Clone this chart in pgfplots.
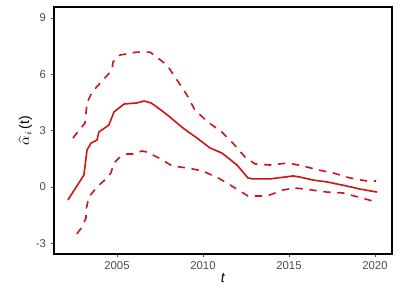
\documentclass[border=0pt]{standalone}
\usepackage{pgfplots}
\pgfplotsset{compat=1.18}
\usepackage{fontspec}
\setmainfont{Liberation Sans}
\definecolor{cred}{RGB}{208,20,20}
\definecolor{tgray}{RGB}{77,77,77}
\begin{document}
\begin{tikzpicture}
\useasboundingbox (-40.5pt,-34.5pt) rectangle (259.5pt,190.5pt);
\begin{axis}[
  at={(0,0)}, anchor=south west,
  scale only axis, width=253.5pt, height=185.25pt,
  xmin=2001.34, xmax=2020.99, ymin=-3.57, ymax=9.59,
  xtick={2005,2010,2015,2020}, ytick={-3,0,3,6,9},
  tick align=outside, tick pos=left,
  major tick length=2.5pt,
  tick style={tgray, line width=0.5pt},
  axis line style={black, line width=0.9pt},
  /pgf/number format/assume math mode=true,
  /pgf/number format/1000 sep={},
  ticklabel style={font=\fontsize{8.5}{10}\selectfont, text=tgray},
  xlabel={\textit{t}}, ylabel={$\widehat{\alpha}_i\,$(t)},
  label style={font=\fontsize{10.5}{12}\selectfont},
  xlabel style={yshift=4pt},
  ylabel style={yshift=-4pt},
]
\addplot[cred, line width=1.2pt] coordinates {
(2002.15,-0.69) (2003.08,0.64) (2003.26,1.97) (2003.49,2.34) (2003.84,2.50)
(2003.95,2.93) (2004.53,3.30) (2004.83,4.00) (2005.41,4.42) (2006.16,4.48)
(2006.57,4.58) (2006.98,4.48) (2007.56,4.10) (2008.08,3.73) (2008.84,3.14)
(2009.65,2.61) (2010.41,2.08) (2011.10,1.81) (2011.98,1.17) (2012.62,0.48)
(2012.91,0.43) (2013.90,0.43) (2014.30,0.48) (2014.94,0.55) (2015.23,0.59)
(2015.64,0.53) (2016.40,0.37) (2017.21,0.27) (2018.37,0.05) (2019.13,-0.11)
(2020.12,-0.27)
};
\addplot[cred, line width=1.2pt, dash pattern=on 5.5pt off 5pt] coordinates {
(2002.44,2.61) (2003.14,3.41) (2003.26,4.48) (2003.55,5.06) (2004.30,5.81)
(2004.71,6.23) (2004.77,6.66) (2005.17,7.03) (2006.16,7.19) (2006.92,7.19)
(2007.91,6.50) (2008.49,5.70) (2009.07,4.90) (2009.53,4.10) (2010.29,3.46)
(2011.10,2.93) (2011.74,2.34) (2012.44,1.60) (2013.02,1.23) (2013.90,1.17)
(2014.94,1.28) (2015.81,1.12) (2016.69,0.91) (2017.56,0.75) (2018.55,0.48)
(2019.53,0.32) (2020.06,0.32)
};
\addplot[cred, line width=1.2pt, dash pattern=on 5.5pt off 5pt] coordinates {
(2002.67,-2.50) (2002.97,-2.13) (2003.20,-1.65) (2003.20,-1.23) (2003.37,-0.53)
(2003.84,0) (2004.42,0.48) (2004.65,0.75) (2004.83,1.28) (2005.12,1.55)
(2005.58,1.76) (2005.99,1.76) (2006.45,1.92) (2006.74,1.86) (2007.56,1.49)
(2008.20,1.12) (2009.13,1.01) (2010.00,0.85) (2010.99,0.43) (2011.86,-0.05)
(2012.62,-0.48) (2013.72,-0.48) (2014.65,-0.16) (2015.35,-0.05) (2016.34,-0.16)
(2017.21,-0.27) (2018.14,-0.32) (2019.01,-0.53) (2019.88,-0.75) (2020.06,-0.75)
};
\end{axis}
\end{tikzpicture}
\end{document}
